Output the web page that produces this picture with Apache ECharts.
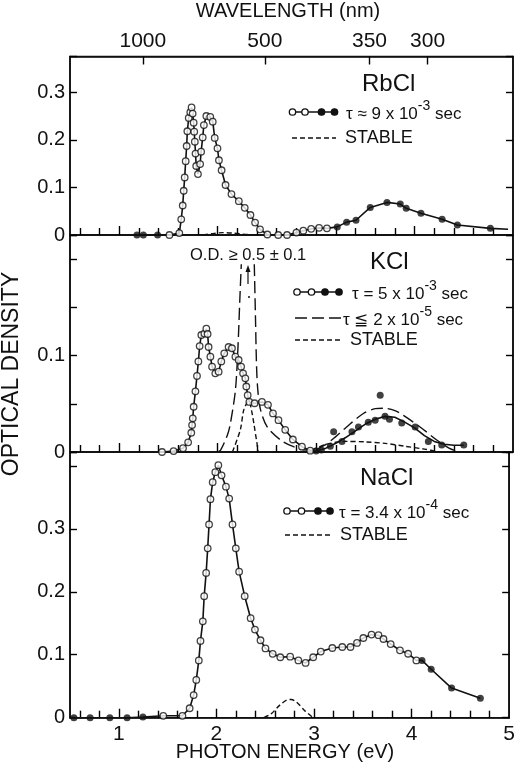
<!DOCTYPE html>
<html><head><meta charset="utf-8">
<script src="https://cdn.jsdelivr.net/npm/echarts@6/dist/echarts.min.js"></script>
<style>html,body{margin:0;padding:0;background:#fff}#c{width:518px;height:769px}</style>
</head><body><div id="c"></div>
<script>
// ---------- tick / label arrays ----------
const energyTicks = [0.6,0.8,1,1.2,1.4,1.6,1.8,2,2.2,2.4,2.6,2.8,3,3.2,3.4,3.6,3.8,4,4.2,4.4,4.6,4.8];
const energyLabels = [1,2,3,4,5];
const wavelengthLabels = [1000,500,350,300];
const HC = 1239.84;

// ---------- RbCl ----------
const rbOpen = [[1.51,0],[1.61,0.004],[1.63,0.033],[1.645,0.062],[1.655,0.093],[1.665,0.121],[1.675,0.155],[1.685,0.187],[1.692,0.218],[1.706,0.246],[1.722,0.258],[1.735,0.268],[1.746,0.255],[1.756,0.236],[1.762,0.217],[1.768,0.196],[1.775,0.171],[1.782,0.145],[1.80,0.128],[1.822,0.149],[1.832,0.175],[1.848,0.205],[1.86,0.231],[1.885,0.25],[1.925,0.248],[1.95,0.238],[1.97,0.204],[1.998,0.182],[2.013,0.157],[2.04,0.136],[2.08,0.105],[2.14,0.086],[2.215,0.071],[2.275,0.057],[2.333,0.042],[2.38,0.026],[2.43,0.012],[2.505,0.001],[2.615,0],[2.705,0],[2.80,0.005],[2.87,0.009],[2.95,0.013],[3.03,0.015],[3.11,0.014]];
const rbFilled = [[1.18,0],[1.245,0],[1.39,0],[3.215,0.017],[3.31,0.027],[3.405,0.031],[3.55,0.058],[3.72,0.0685],[3.855,0.065],[3.915,0.056],[4.065,0.0455],[4.28,0.033],[4.435,0.021],[4.77,0.014]];
const rbCurveEnd = [[4.95,0.012]];
const rbStable = [[1.85,0],[1.95,0.003],[2.05,0.005],[2.15,0.004],[2.3,0.001],[2.4,0]];

// ---------- KCl ----------
const kOpen = [[1.435,0],[1.552,0.001],[1.648,0.004],[1.70,0.010],[1.732,0.020],[1.74,0.028],[1.747,0.035],[1.756,0.047],[1.774,0.063],[1.79,0.079],[1.804,0.094],[1.817,0.11],[1.834,0.1215],[1.865,0.123],[1.885,0.128],[1.898,0.1225],[1.908,0.109],[1.926,0.099],[1.943,0.0886],[1.976,0.0817],[2.01,0.0834],[2.037,0.094],[2.067,0.1025],[2.111,0.109],[2.145,0.1077],[2.18,0.099],[2.213,0.0955],[2.238,0.0886],[2.258,0.0817],[2.281,0.0765],[2.291,0.068],[2.305,0.059],[2.322,0.052],[2.375,0.0506],[2.45,0.052],[2.511,0.049],[2.562,0.040],[2.618,0.033],[2.686,0.023],[2.764,0.013],[2.856,0.0055],[2.94,0.0014]];
const kFilled = [[3.0,0.001],[3.053,0.002],[3.144,0.006],[3.178,0.021],[3.263,0.011],[3.364,0.021],[3.43,0.026],[3.53,0.031],[3.6,0.033],[3.651,0.059],[3.70,0.037],[3.745,0.034],[3.87,0.030],[4.006,0.026],[4.14,0.011],[4.276,0.0073],[4.50,0.0073]];
const kCurve = [[3.0,0.001],[3.1,0.004],[3.2,0.009],[3.3,0.015],[3.4,0.022],[3.5,0.029],[3.6,0.034],[3.7,0.037],[3.8,0.036],[3.9,0.031],[4.0,0.025],[4.1,0.017],[4.2,0.011],[4.3,0.008],[4.4,0.007],[4.5,0.007]];
const kFast = [[2.0,0],[2.03,0.002],[2.1,0.018],[2.13,0.03],[2.18,0.064],[2.205,0.106],[2.225,0.158],[2.24,0.195],[2.31,'-'],[2.372,0.195],[2.384,0.14],[2.395,0.089],[2.408,0.064],[2.435,0.044],[2.503,0.026],[2.638,0.0125],[2.77,0.0055],[2.9,0.002],[2.975,0.002],[3.1,0.008],[3.2,0.016],[3.31,0.026],[3.48,0.040],[3.6,0.045],[3.685,0.0455],[3.8,0.043],[3.887,0.038],[4.056,0.026],[4.225,0.0125],[4.35,0.004],[4.45,0]];
const kStable = [[2.15,0],[2.23,0.023],[2.266,0.044],[2.315,0.053],[2.35,0.04],[2.367,0.03],[2.4,0.009],[2.42,0],[2.9,0],[3.0,0.004],[3.1,0.008],[3.3,0.011],[3.5,0.0105],[3.7,0.009],[3.9,0.006],[4.1,0.003],[4.25,0]];

// ---------- NaCl ----------
const naOpen = [[1.456,0.003],[1.652,0.003],[1.726,0.015],[1.767,0.036],[1.794,0.06],[1.82,0.091],[1.837,0.122],[1.861,0.153],[1.875,0.193],[1.895,0.23],[1.911,0.269],[1.925,0.307],[1.939,0.347],[1.962,0.374],[1.989,0.39],[2.02,0.401],[2.053,0.385],[2.098,0.367],[2.131,0.348],[2.165,0.307],[2.199,0.269],[2.233,0.232],[2.29,0.193],[2.351,0.158],[2.395,0.14],[2.452,0.123],[2.503,0.11],[2.577,0.1015],[2.655,0.096],[2.756,0.097],[2.84,0.091],[2.914,0.087],[2.992,0.096],[3.07,0.105],[3.188,0.1107],[3.29,0.1123],[3.374,0.1123],[3.441,0.1187],[3.506,0.1266],[3.59,0.132],[3.661,0.131],[3.712,0.125],[3.786,0.117],[3.881,0.107],[3.965,0.1016],[4.049,0.091]];
const naFilled = [[0.54,0],[0.706,0],[0.908,0],[1.085,0],[1.247,0.001],[4.107,0.091],[4.201,0.077],[4.41,0.047],[4.705,0.031]];
const naStable = [[2.486,0],[2.56,0.006],[2.65,0.02],[2.72,0.028],[2.766,0.029],[2.82,0.025],[2.9,0.012],[2.99,0]];

// ---------- y axes ----------
const yMax = [0.375, 0.2253, 0.422];
const yInterval = [0.1, 0.05, 0.1];
const yLabelVals = [[0, 0.1, 0.2, 0.3], [0, 0.1], [0, 0.1, 0.2, 0.3]];

// ---------- chart ----------
const FONT = '"Liberation Sans", Arial, sans-serif';
const BLACK = '#111';
const byE = (a, b) => a[0] - b[0];
const rbLine = rbFilled.concat(rbOpen, rbCurveEnd).sort(byE);
const kLine = kOpen.concat(kCurve).sort(byE);
const naLine = naFilled.concat(naOpen).sort(byE);

const grids = [
  {left: 70, right: 5, top: 56.5, height: 178.5},
  {left: 70, right: 5, top: 235, height: 217},
  {left: 70, right: 5, top: 452, height: 265.7}
].map(g => Object.assign(g, {show: true, borderColor: BLACK, borderWidth: 1.6, backgroundColor: 'transparent'}));

// value x axes (carry the data and the labels)
function xAxisFor(i) {
  return {
    gridIndex: i, type: 'value', min: 0.5, max: 5, position: 'bottom',
    axisLine: {show: true, onZero: false, lineStyle: {color: BLACK, width: 1.6}},
    axisTick: {show: false},
    axisLabel: {show: i === 2, customValues: energyLabels, margin: 6, fontSize: 21, fontFamily: FONT, color: BLACK,
      formatter: v => String(Math.round(v))},
    splitLine: {show: false}
  };
}
const xAxes = [xAxisFor(0), xAxisFor(1), xAxisFor(2), {
  gridIndex: 0, type: 'value', min: 0.5, max: 5, position: 'top',
  axisLine: {show: true, onZero: false, lineStyle: {color: BLACK, width: 1.6}},
  axisTick: {show: false},
  axisLabel: {show: true, customValues: wavelengthLabels.map(l => HC / l), margin: 5, fontSize: 21, fontFamily: FONT, color: BLACK,
    formatter: v => String(Math.round(HC / v))},
  splitLine: {show: false}
}];

// fine category axes over the same 0.5–5 eV span, used only to place tick marks
const fineE = [];
for (let k = 0; k <= 450; k++) fineE.push((0.5 + k * 0.01).toFixed(2));
const minorSet = new Set(energyTicks.filter(v => Math.abs(v - Math.round(v)) > 1e-9).map(v => v.toFixed(2)));
const majorSet = new Set(energyTicks.filter(v => Math.abs(v - Math.round(v)) < 1e-9).map(v => v.toFixed(2)));
const wlSet = new Set(wavelengthLabels.map(l => (HC / l).toFixed(2)));
function tickAxis(gi, set, len, pos) {
  return {
    gridIndex: gi, type: 'category', data: fineE, boundaryGap: false, position: pos,
    axisLine: {show: false, onZero: false}, axisLabel: {show: false}, splitLine: {show: false},
    axisTick: {show: true, inside: true, length: len, interval: (idx, val) => set.has(val),
      lineStyle: {color: '#000', width: 1.4}}
  };
}
for (let i = 0; i < 3; i++) {
  xAxes.push(tickAxis(i, minorSet, 7, 'bottom'));
  xAxes.push(tickAxis(i, majorSet, 9, 'bottom'));
}
xAxes.push(tickAxis(0, wlSet, 8, 'top'));

const yAxes = [];
for (let i = 0; i < 3; i++) {
  yAxes.push({
    gridIndex: i, type: 'value', min: 0, max: yMax[i], interval: yInterval[i], position: 'left',
    axisLine: {show: true, onZero: false, lineStyle: {color: BLACK, width: 1.6}},
    axisTick: {show: true, inside: true, length: 7, lineStyle: {color: '#000', width: 1.4}},
    axisLabel: {show: true, margin: 5, fontSize: 20, fontFamily: FONT, color: BLACK,
      formatter: v => {
        const hit = yLabelVals[i].find(t => Math.abs(t - v) < 1e-6);
        return hit === undefined ? '' : (hit === 0 ? '0' : hit.toFixed(1));
      }},
    splitLine: {show: false}
  });
}
for (let i = 0; i < 3; i++) {
  yAxes.push({
    gridIndex: i, type: 'value', min: 0, max: yMax[i], interval: yInterval[i], position: 'right',
    axisLine: {show: true, onZero: false, lineStyle: {color: BLACK, width: 1.6}},
    axisTick: {show: true, inside: true, length: 7, lineStyle: {color: '#000', width: 1.4}},
    axisLabel: {show: false}, splitLine: {show: false}
  });
}

function solid(i, data) {
  return {type: 'line', xAxisIndex: i, yAxisIndex: i, data, showSymbol: false, symbol: 'none',
    lineStyle: {color: BLACK, width: 1.6}, z: 2, animation: false, silent: true};
}
function dashed(i, data, dash) {
  return {type: 'line', xAxisIndex: i, yAxisIndex: i, data, showSymbol: false, symbol: 'none', smooth: 0.3,
    connectNulls: false, lineStyle: {color: BLACK, width: 1.4, type: dash}, z: 2, animation: false, silent: true};
}
function openPts(i, data) {
  return {type: 'scatter', xAxisIndex: i, yAxisIndex: i, data, symbol: 'circle', symbolSize: 6.5,
    itemStyle: {color: '#fff', borderColor: BLACK, borderWidth: 1.3}, z: 4, animation: false, silent: true};
}
function filledPts(i, data) {
  return {type: 'scatter', xAxisIndex: i, yAxisIndex: i, data, symbol: 'circle', symbolSize: 7,
    itemStyle: {color: BLACK}, z: 4, animation: false, silent: true};
}
const SHORT = [5, 3], LONG = [12, 5];
const series = [
  solid(0, rbLine), dashed(0, rbStable, SHORT), openPts(0, rbOpen), filledPts(0, rbFilled),
  solid(1, kLine), dashed(1, kFast, LONG), dashed(1, kStable, SHORT), openPts(1, kOpen), filledPts(1, kFilled),
  solid(2, naLine), dashed(2, naStable, SHORT), openPts(2, naOpen), filledPts(2, naFilled)
];

// ---------- decorations (legend glyphs and text) ----------
function txt(x, y, text, size, align) {
  return {type: 'text', x, y, silent: true, z: 10,
    style: {text, fontSize: size, fontFamily: FONT, fill: BLACK, align: align || 'left', verticalAlign: 'middle'}};
}
function supTxt(x, y, a, s, b) {
  return {type: 'text', x, y, silent: true, z: 10,
    style: {text: '{m|' + a + '}{s|' + s + '}{m|' + b + '}', align: 'left', verticalAlign: 'middle', fill: BLACK,
      rich: {m: {fontSize: 17, fontFamily: FONT, lineHeight: 30, fill: BLACK},
             s: {fontSize: 14, fontFamily: FONT, lineHeight: 14, verticalAlign: 'top', fill: BLACK}}}};
}
function symLine(x1, x2, y, xs) {
  const els = [{type: 'line', silent: true, z: 10, shape: {x1, y1: y, x2, y2: y}, style: {stroke: BLACK, lineWidth: 1.6}}];
  xs.forEach((cx, k) => els.push({type: 'circle', silent: true, z: 11, shape: {cx, cy: y, r: 3.2},
    style: {fill: k < 2 ? '#fff' : BLACK, stroke: BLACK, lineWidth: 1.3}}));
  return els;
}
function dashLine(x1, x2, y, dash) {
  return {type: 'line', silent: true, z: 10, shape: {x1, y1: y, x2, y2: y}, style: {stroke: BLACK, lineWidth: 1.4, lineDash: dash}};
}
const graphic = [
  txt(288, 11, 'WAVELENGTH (nm)', 20, 'center'),
  txt(285, 752, 'PHOTON ENERGY (eV)', 20, 'center'),
  {type: 'text', x: 12, y: 374, rotation: Math.PI / 2, silent: true, z: 10,
    style: {text: 'OPTICAL DENSITY', fontSize: 23, fontFamily: FONT, fill: BLACK, align: 'center', verticalAlign: 'middle'}},
  // RbCl
  txt(362, 84, 'RbCl', 24),
  ...symLine(290, 337, 112, [292.5, 305, 321.5, 334.5]),
  supTxt(346, 114, 'τ ≈ 9 x 10', '-3', ' sec'),
  dashLine(292, 336, 138, [5, 3]),
  txt(345, 138, 'STABLE', 18),
  // KCl
  txt(190, 255, 'O.D. ≥ 0.5 ± 0.1', 16.5),
  {type: 'line', silent: true, z: 10, shape: {x1: 248, y1: 284, x2: 248, y2: 268}, style: {stroke: BLACK, lineWidth: 1.2}},
  {type: 'polygon', silent: true, z: 10, shape: {points: [[245.5, 272], [248, 265], [250.5, 272]]}, style: {fill: BLACK}},
  {type: 'circle', silent: true, z: 10, shape: {cx: 249, cy: 297, r: 1}, style: {fill: BLACK}},
  txt(370, 262, 'KCl', 24),
  ...symLine(295, 340, 292, [297, 311.5, 325, 339]),
  supTxt(352, 294, 'τ = 5 x 10', '-3', ' sec'),
  dashLine(295, 343, 318, [12, 5]),
  supTxt(343, 320, 'τ ≦ 2 x 10', '-5', ' sec'),
  dashLine(295, 343, 340, [5, 3]),
  txt(350, 340, 'STABLE', 18),
  // NaCl
  txt(360, 478, 'NaCl', 24),
  ...symLine(285, 332, 511, [287, 301.5, 318, 330]),
  supTxt(339, 513, 'τ = 3.4 x 10', '-4', ' sec'),
  dashLine(285, 333, 535, [5, 3]),
  txt(340, 535, 'STABLE', 18)
];

const chart = echarts.init(document.getElementById('c'), null, {renderer: 'canvas'});
chart.setOption({
  backgroundColor: '#fff', animation: false,
  grid: grids, xAxis: xAxes, yAxis: yAxes, series, graphic
});
</script></body></html>
